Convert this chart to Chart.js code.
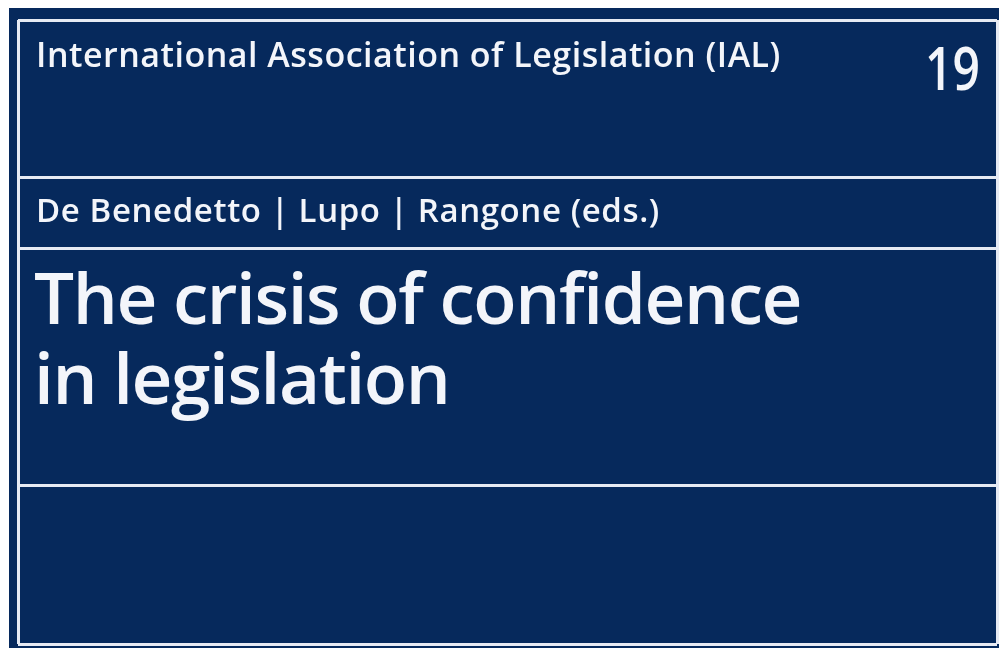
<!DOCTYPE html>
<html>
<head>
<meta charset="utf-8">
<script src="https://cdn.jsdelivr.net/npm/chart.js@4.4.1/dist/chart.umd.min.js"></script>
<style>
  html, body { margin: 0; padding: 0; background: #ffffff; width: 999px; height: 648px; overflow: hidden; }
  #wrap { position: relative; width: 999px; height: 648px; }
  canvas { position: absolute; left: 0; top: 0; }
  .t { position: absolute; color: #f3f5fa; font-family: "Open Sans", "Noto Sans", sans-serif; white-space: nowrap; line-height: 1; font-weight: 600; }
  #series { left: 36px; top: 37px; font-size: 34px; letter-spacing: 0.5px; }
  #vol { left: 925px; top: 37px; font-size: 60px; transform: scaleX(0.8); transform-origin: left top; }
  #eds { left: 36px; top: 193px; font-size: 33px; letter-spacing: 0.6px; }
  #title { left: 34px; top: 257px; font-size: 71px; line-height: 80px; font-weight: 600; letter-spacing: -1.4px; }
</style>
</head>
<body>
<div id="wrap">
  <canvas id="c" width="999" height="648"></canvas>
  <div class="t" id="series"></div>
  <div class="t" id="vol"></div>
  <div class="t" id="eds"></div>
  <div class="t" id="title"></div>
</div>
<script>
// Texts of the cover
const seriesName = "International Association of Legislation (IAL)";
const volumeNumber = "19";
const editors = "De Benedetto | Lupo | Rangone (eds.)";
const titleLines = ["The crisis of confidence", "in legislation"];

// Frame divider positions (in cover units = pixels of the 999x648 cover)
const horizontalDividers = [20, 177, 248, 485, 644];
const verticalDividers = [18, 997];

document.getElementById('series').textContent = seriesName;
document.getElementById('vol').textContent = volumeNumber;
document.getElementById('eds').textContent = editors;
document.getElementById('title').innerHTML = titleLines.map(s => s.replace(/&/g,'&amp;').replace(/</g,'&lt;')).join('<br>');

const navy = '#06295c';
const lineColor = '#e6eaf3';

const bgPlugin = {
  id: 'coverBg',
  beforeDraw(chart) {
    const ctx = chart.ctx;
    ctx.save();
    ctx.fillStyle = '#ffffff';
    ctx.fillRect(0, 0, chart.width, chart.height);
    ctx.fillStyle = navy;
    ctx.fillRect(9, 8, chart.width - 9, chart.height - 8);
    ctx.restore();
  }
};

new Chart(document.getElementById('c'), {
  type: 'scatter',
  data: { datasets: [{ data: [], pointRadius: 0 }] },
  plugins: [bgPlugin],
  options: {
    responsive: false,
    animation: false,
    events: [],
    layout: { padding: { left: verticalDividers[0], right: 999 - verticalDividers[1], top: horizontalDividers[0], bottom: 648 - horizontalDividers[horizontalDividers.length - 1] } },
    plugins: { legend: { display: false }, tooltip: { enabled: false }, title: { display: false } },
    scales: {
      x: {
        type: 'linear',
        min: verticalDividers[0],
        max: verticalDividers[1],
        border: { display: false },
        ticks: { display: false },
        afterBuildTicks(axis) { axis.ticks = verticalDividers.map(v => ({ value: v })); },
        grid: { color: lineColor, lineWidth: 3, drawTicks: false }
      },
      y: {
        type: 'linear',
        reverse: true,
        min: horizontalDividers[0],
        max: horizontalDividers[horizontalDividers.length - 1],
        border: { display: false },
        ticks: { display: false },
        afterBuildTicks(axis) { axis.ticks = horizontalDividers.map(v => ({ value: v })); },
        grid: { color: lineColor, lineWidth: 3, drawTicks: false }
      }
    }
  }
});
</script>
</body>
</html>
